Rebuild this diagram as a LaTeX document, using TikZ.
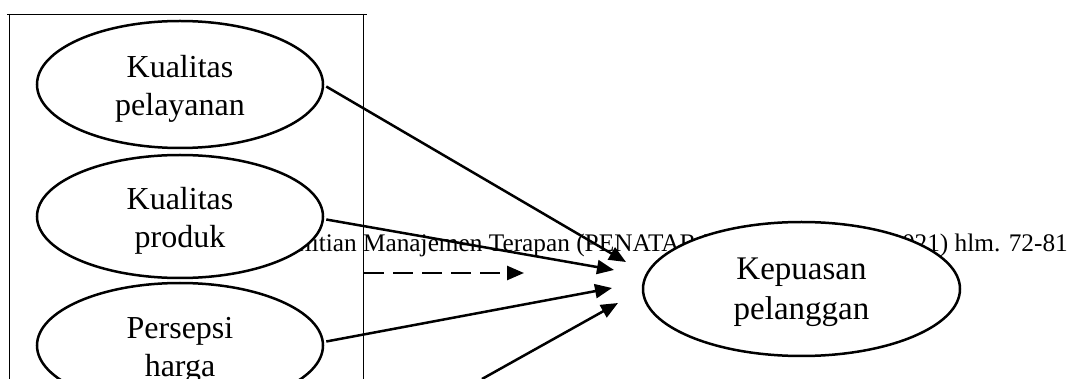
\documentclass[tikz,border=0pt]{standalone}
\usepackage{fontspec}
\setmainfont{Liberation Serif}
\usetikzlibrary{arrows.meta,shapes.geometric}
\newcommand\vbump[1]{\rule{0pt}{#1}}
\begin{document}
\begin{tikzpicture}[x=1pt,y=-1pt,
  var/.style={ellipse,draw,line width=2.5pt,fill=white,inner sep=0pt,align=center,
    font=\fontsize{32}{38}\selectfont},
  arr/.style={line width=2.5pt,-{Triangle[length=17pt,width=14pt]}},
  frame/.style={line width=0.9pt}]
\clip (0,0) rectangle (1074,379);
\useasboundingbox (0,0) rectangle (1074,379);
\fill[white] (0,0) rectangle (1074,379);
% running header behind the figure
\node[anchor=base east,inner sep=0pt,font=\fontsize{25.3}{28}\selectfont] (hdr) at (1068,252)
  {Jurnal Penelitian Manajemen Terapan (PENATARAN) Vol. 6 No. 1 (2021) hlm. 72-81};
% frame
\draw[frame] (7,14) -- (367,14);
\draw[frame] (9,14) -- (9,379);
\draw[frame] (363,14) -- (363,379);
% variables
\node[var,minimum width=286pt,minimum height=127pt] (kp) at (180,84.5) {\vbump{30pt}Kualitas\\pelayanan};
\node[var,minimum width=286pt,minimum height=123pt] (kpr) at (180,216.5) {\vbump{30pt}Kualitas\\produk};
\node[var,minimum width=286pt,minimum height=125pt] (ph) at (180,345.5) {\vbump{30pt}Persepsi\\harga};
\node[var,minimum width=317pt,minimum height=134pt,font=\fontsize{33}{40}\selectfont] (kep) at (801.5,289) {\vbump{29pt}Kepuasan\\pelanggan};
% arrow ends
\coordinate (t1) at (626,262);
\coordinate (t2) at (614,270);
\coordinate (t3) at (612,288);
\coordinate (t4) at (618,303);
\coordinate (s4) at (482,379);
\coordinate (d0) at (364,273);
\coordinate (d1) at (524,273);
\draw[arr] ([shift={(2,2)}]kp.east) -- (t1);
\draw[arr] ([shift={(2,3)}]kpr.east) -- (t2);
\draw[arr] ([shift={(2,-4)}]ph.east) -- (t3);
\draw[arr] (s4) -- (t4);
\draw[arr,dash pattern=on 20pt off 9pt] (d0) -- (d1);
\end{tikzpicture}
\end{document}
